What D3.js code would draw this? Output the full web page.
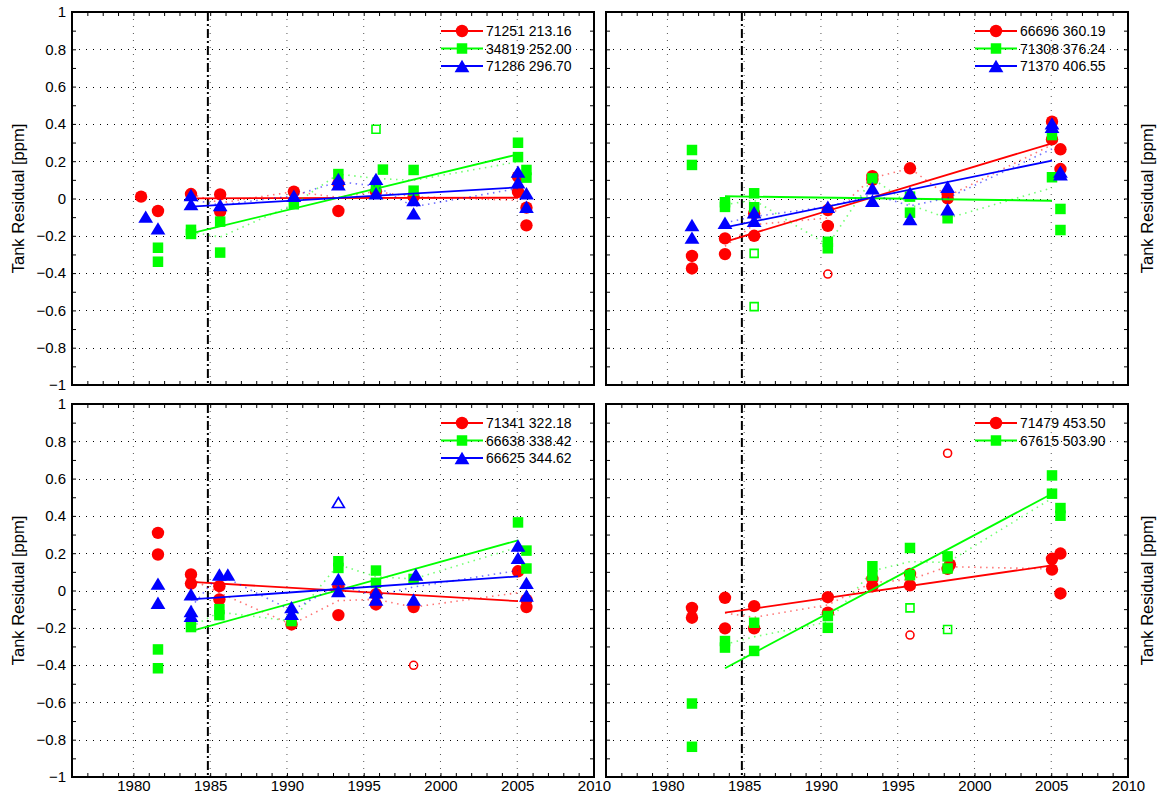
<!DOCTYPE html>
<html>
<head>
<meta charset="utf-8">
<script src="https://cdn.jsdelivr.net/npm/d3@7"></script>
<style>
  body { margin: 0; background: #fff; }
  svg { display: block; }
  text { font-family: "Liberation Sans", Arial, Helvetica, sans-serif; }
</style>
</head>
<body>
<svg id="chart" width="1159" height="803"></svg>
<script>
// ---- axis settings -------------------------------------------------------
const xDomain = [1976, 2010];
const yDomain = [-1, 1];
const xTickYears = d3.range(1976, 2011);            // minor ticks every year
const xLabelYears = [1980, 1985, 1990, 1995, 2000, 2005, 2010];
const xGridYears = [1980, 1985, 1990, 1995, 2000, 2005];
const yTickValues = d3.range(-10, 11).map(i => i / 10);
const yGridValues = [-0.8, -0.6, -0.4, -0.2, 0, 0.2, 0.4, 0.6, 0.8];
const cutoffYear = 1984.85;                          // dash-dot reference line
const fitYears = [1983.75, 2005.05];                 // span of trend lines
const yAxisTitle = "Tank Residual [ppm]";

// ---- panel 1 (top left): [year, residual] --------------------------------
const p1Names = ["71251 213.16", "34819 252.00", "71286 296.70"];
const p1Red = [[1980.5,0.01],[1981.6,-0.067],[1983.75,0.024],[1985.65,0.022],[1985.65,-0.07],[1990.45,0.037],[1993.35,0.08],[1993.35,-0.067],[1995.8,0.037],[1998.25,0.01],[2005.05,0.117],[2005.05,0.035],[2005.6,-0.049],[2005.6,-0.144]];
const p1RedOut = [];
const p1RedFit = [0.001, 0.004];
const p1Green = [[1981.6,-0.264],[1981.6,-0.339],[1983.75,-0.168],[1983.75,-0.19],[1985.65,-0.124],[1985.65,-0.29],[1990.45,-0.031],[1993.35,0.131],[1995.8,0.06],[1996.25,0.155],[1998.25,0.153],[1998.25,0.042],[2005.05,0.299],[2005.05,0.222],[2005.6,0.153],[2005.6,0.112]];
const p1GreenOut = [[1995.8,0.371]];
const p1GreenFit = [-0.187, 0.237];
const p1Blue = [[1980.8,-0.097],[1981.6,-0.16],[1983.75,0.019],[1983.75,-0.03],[1985.65,-0.035],[1990.45,0.015],[1993.35,0.105],[1993.35,0.076],[1995.8,0.105],[1995.8,0.028],[1998.25,-0.008],[1998.25,-0.08],[2005.05,0.144],[2005.05,0.087],[2005.6,0.028],[2005.6,-0.044]];
const p1BlueOut = [];
const p1BlueFit = [-0.044, 0.06];

// ---- panel 2 (top right) -------------------------------------------------
const p2Names = ["66696 360.19", "71308 376.24", "71370 406.55"];
const p2Red = [[1981.6,-0.308],[1981.6,-0.375],[1983.75,-0.214],[1983.75,-0.298],[1985.65,-0.2],[1985.65,-0.08],[1990.45,-0.062],[1990.45,-0.147],[1993.35,0.12],[1993.35,0.1],[1995.8,0.162],[1998.25,0.024],[1998.25,0.001],[2005.05,0.412],[2005.05,0.317],[2005.6,0.264],[2005.6,0.158]];
const p2RedOut = [[1990.45,-0.405]];
const p2RedFit = [-0.232, 0.296];
const p2Green = [[1981.6,0.26],[1981.6,0.18],[1983.75,-0.02],[1983.75,-0.045],[1985.65,0.028],[1985.65,-0.047],[1990.45,-0.232],[1990.45,-0.267],[1993.35,0.108],[1995.8,0.01],[1995.8,-0.076],[1998.25,-0.106],[2005.05,0.34],[2005.05,0.114],[2005.6,-0.056],[2005.6,-0.169]];
const p2GreenOut = [[1985.65,-0.294],[1985.65,-0.58]];
const p2GreenFit = [0.012, -0.012];
const p2Blue = [[1981.6,-0.142],[1981.6,-0.21],[1983.75,-0.13],[1985.65,-0.074],[1985.65,-0.12],[1990.45,-0.044],[1993.35,0.055],[1993.35,-0.012],[1995.8,0.031],[1995.8,-0.11],[1998.25,0.063],[1998.25,-0.058],[2005.05,0.403],[2005.05,0.385],[2005.6,0.144],[2005.6,0.13]];
const p2BlueOut = [];
const p2BlueFit = [-0.155, 0.203];

// ---- panel 3 (bottom left) -----------------------------------------------
const p3Names = ["71341 322.18", "66638 338.42", "66625 344.62"];
const p3Red = [[1981.6,0.309],[1981.6,0.193],[1983.75,0.086],[1983.75,0.037],[1985.6,0.023],[1985.6,-0.048],[1990.3,-0.182],[1993.35,0.023],[1993.35,-0.132],[1995.8,-0.02],[1995.8,-0.075],[1998.25,-0.089],[2005.05,0.103],[2005.6,-0.05],[2005.6,-0.089]];
const p3RedOut = [[1998.25,-0.401]];
const p3RedFit = [0.046, -0.057];
const p3Green = [[1981.6,-0.316],[1981.6,-0.417],[1983.75,-0.196],[1985.6,-0.1],[1985.6,-0.132],[1990.3,-0.164],[1993.35,0.157],[1993.35,0.121],[1995.8,0.107],[1995.8,0.041],[1998.25,0.062],[2005.05,0.365],[2005.6,0.214],[2005.6,0.118]];
const p3GreenOut = [];
const p3GreenFit = [-0.218, 0.269];
const p3Blue = [[1981.6,0.037],[1981.6,-0.066],[1983.75,-0.02],[1983.75,-0.11],[1983.75,-0.135],[1985.6,0.086],[1986.15,0.086],[1990.3,-0.089],[1990.3,-0.125],[1993.35,0.062],[1993.35,-0.003],[1995.8,-0.009],[1995.8,-0.048],[1998.4,0.086],[1998.25,-0.048],[2005.05,0.241],[2005.05,0.175],[2005.6,0.041],[2005.6,-0.027]];
const p3BlueOut = [[1993.35,0.472]];
const p3BlueFit = [-0.048, 0.076];

// ---- panel 4 (bottom right) ----------------------------------------------
const p4Names = ["71479 453.50", "67615 503.90"];
const p4Red = [[1981.6,-0.093],[1981.6,-0.146],[1983.75,-0.039],[1983.75,-0.203],[1985.65,-0.084],[1985.65,-0.203],[1990.45,-0.036],[1990.45,-0.119],[1993.35,0.062],[1993.35,0.023],[1995.8,0.089],[1995.8,0.028],[1998.4,0.139],[1998.25,0.116],[2005.05,0.17],[2005.05,0.112],[2005.6,0.198],[2005.6,-0.016]];
const p4RedOut = [[1995.8,-0.239],[1998.25,0.736]];
const p4RedFit = [-0.119, 0.135];
const p4Green = [[1981.6,-0.606],[1981.6,-0.838],[1983.75,-0.271],[1983.75,-0.306],[1985.65,-0.173],[1985.65,-0.324],[1990.45,-0.137],[1990.45,-0.2],[1993.35,0.13],[1993.35,0.08],[1995.8,0.228],[1995.8,0.082],[1998.25,0.183],[1998.25,0.118],[2005.05,0.617],[2005.05,0.519],[2005.6,0.442],[2005.6,0.401]];
const p4GreenOut = [[1995.8,-0.093],[1998.25,-0.209]];
const p4GreenFit = [-0.417, 0.519];

// ---- series styles --------------------------------------------------------
const RED = "#ff0000", GREEN = "#00ff00", BLUE = "#0000ff";

function seriesList(names, defs) {
  return defs.map((d, i) => ({ name: names[i], color: d[0], shape: d[1], pts: d[2], out: d[3], fit: d[4] }));
}

const panels = [
  { box: [72, 12, 594, 385], side: "left", xLabels: false,
    series: seriesList(p1Names, [[RED, "circle", p1Red, p1RedOut, p1RedFit], [GREEN, "square", p1Green, p1GreenOut, p1GreenFit], [BLUE, "triangle", p1Blue, p1BlueOut, p1BlueFit]]) },
  { box: [606, 12, 1128, 385], side: "right", xLabels: false,
    series: seriesList(p2Names, [[RED, "circle", p2Red, p2RedOut, p2RedFit], [GREEN, "square", p2Green, p2GreenOut, p2GreenFit], [BLUE, "triangle", p2Blue, p2BlueOut, p2BlueFit]]) },
  { box: [72, 404, 594, 777], side: "left", xLabels: true,
    series: seriesList(p3Names, [[RED, "circle", p3Red, p3RedOut, p3RedFit], [GREEN, "square", p3Green, p3GreenOut, p3GreenFit], [BLUE, "triangle", p3Blue, p3BlueOut, p3BlueFit]]) },
  { box: [606, 404, 1128, 777], side: "right", xLabels: true,
    series: seriesList(p4Names, [[RED, "circle", p4Red, p4RedOut, p4RedFit], [GREEN, "square", p4Green, p4GreenOut, p4GreenFit]]) }
];

// ---- marker shapes ---------------------------------------------------------
function markerPath(shape, open) {
  if (shape === "circle") return d3.symbol(d3.symbolCircle, Math.PI * (open ? 4 : 6.2) ** 2)();
  if (shape === "square") return d3.symbol(d3.symbolSquare, (open ? 8 : 10.5) ** 2)();
  const w = open ? 6 : 7.4, h = open ? 5 : 6.2;
  return `M0,${-h}L${w},${h}L${-w},${h}Z`;
}

// per-epoch means (observations less than a year apart form one epoch)
function epochMeans(pts) {
  const sorted = pts.filter(p => p[0] >= 1983).slice().sort((a, b) => a[0] - b[0]);
  const groups = [];
  sorted.forEach(p => {
    const last = groups[groups.length - 1];
    if (last && p[0] - last.start < 1) last.vals.push(p[1]);
    else groups.push({ start: p[0], vals: [p[1]] });
  });
  return groups.map(g => [g.start, d3.mean(g.vals)]);
}

const svg = d3.select("#chart");
const fmtY = v => {
  const s = String(Math.round(v * 10) / 10);
  return s.replace("-", "\u2212");
};

panels.forEach(p => {
  const [x0, y0, x1, y1] = p.box;
  const x = d3.scaleLinear().domain(xDomain).range([x0, x1]);
  const y = d3.scaleLinear().domain(yDomain).range([y1, y0]);
  const g = svg.append("g");

  // dotted grid
  const grid = g.append("g").attr("stroke", "#000").attr("stroke-width", 1).attr("stroke-dasharray", "1,6");
  grid.selectAll(".gx").data(xGridYears).join("line")
    .attr("x1", d => x(d)).attr("x2", d => x(d)).attr("y1", y0).attr("y2", y1).attr("stroke", "#555");
  grid.selectAll(".gy").data(yGridValues).join("line")
    .attr("x1", x0).attr("x2", x1).attr("y1", d => Math.round(y(d)) + 0.5).attr("y2", d => Math.round(y(d)) + 0.5);

  // dash-dot reference year
  g.append("line")
    .attr("x1", x(cutoffYear)).attr("x2", x(cutoffYear)).attr("y1", y0).attr("y2", y1)
    .attr("stroke", "#000").attr("stroke-width", 2).attr("stroke-dasharray", "9,3,2,3");

  const line = d3.line().x(d => x(d[0])).y(d => y(d[1]));

  p.series.forEach(s => {
    // epoch means, dotted
    g.append("path").datum(epochMeans(s.pts)).attr("d", line)
      .attr("fill", "none").attr("stroke", s.color).attr("stroke-width", 1.6)
      .attr("stroke-opacity", 0.55).attr("stroke-dasharray", "1.5,4.5");
    // trend line
    g.append("path").datum([[fitYears[0], s.fit[0]], [fitYears[1], s.fit[1]]]).attr("d", line)
      .attr("fill", "none").attr("stroke", s.color).attr("stroke-width", 1.8);
    // observations
    g.append("g").selectAll("path").data(s.pts).join("path")
      .attr("d", markerPath(s.shape, false))
      .attr("transform", d => `translate(${x(d[0])},${y(d[1])})`)
      .attr("fill", s.color);
    // rejected observations
    g.append("g").selectAll("path").data(s.out).join("path")
      .attr("d", markerPath(s.shape, true))
      .attr("transform", d => `translate(${x(d[0])},${y(d[1])})`)
      .attr("fill", "none").attr("stroke", s.color).attr("stroke-width", 1.6);
  });

  // legend
  const leg = g.append("g");
  p.series.forEach((s, i) => {
    const ly = y0 + 19 + i * 17.5;
    leg.append("line").attr("x1", x1 - 153).attr("x2", x1 - 111).attr("y1", ly).attr("y2", ly)
      .attr("stroke", s.color).attr("stroke-width", 1.8);
    leg.append("path").attr("d", markerPath(s.shape, false))
      .attr("transform", `translate(${x1 - 132},${ly})`).attr("fill", s.color);
    leg.append("text").attr("x", x1 - 108).attr("y", ly).attr("dy", "0.36em")
      .attr("font-size", 14).attr("fill", "#000").text(s.name);
  });

  // axes with inward ticks on all four sides
  const styleAxis = sel => {
    sel.select(".domain").remove();
    sel.selectAll(".tick line").attr("stroke", "#000");
    sel.attr("font-family", "Liberation Sans, Arial, sans-serif").attr("font-size", 15);
    sel.selectAll(".tick text").attr("fill", "#000");
  };
  g.append("g").attr("transform", `translate(0,${y1})`)
    .call(d3.axisBottom(x).tickValues(xTickYears).tickSizeInner(-4).tickSizeOuter(0).tickPadding(3)
      .tickFormat(d => (p.xLabels && xLabelYears.includes(d)) ? String(d) : ""))
    .call(styleAxis);
  g.append("g").attr("transform", `translate(0,${y0})`)
    .call(d3.axisTop(x).tickValues(xTickYears).tickSizeInner(-4).tickSizeOuter(0).tickFormat(() => ""))
    .call(styleAxis);
  g.append("g").attr("transform", `translate(${x0},0)`)
    .call(d3.axisLeft(y).tickValues(yTickValues).tickSizeInner(-4).tickSizeOuter(0).tickPadding(6)
      .tickFormat(d => (p.side === "left" && Math.round(d * 10) % 2 === 0) ? fmtY(d) : ""))
    .call(styleAxis);
  g.append("g").attr("transform", `translate(${x1},0)`)
    .call(d3.axisRight(y).tickValues(yTickValues).tickSizeInner(-4).tickSizeOuter(0).tickFormat(() => ""))
    .call(styleAxis);

  // frame
  g.append("rect").attr("x", x0).attr("y", y0).attr("width", x1 - x0).attr("height", y1 - y0)
    .attr("fill", "none").attr("stroke", "#000").attr("stroke-width", 2);

  // y axis title
  const tx = p.side === "left" ? 18 : 1147;
  g.append("text")
    .attr("transform", `translate(${tx},${(y0 + y1) / 2}) rotate(-90)`)
    .attr("text-anchor", "middle").attr("dy", "0.35em")
    .attr("font-size", 16.5).attr("fill", "#000").text(yAxisTitle);
});
</script>
</body>
</html>
